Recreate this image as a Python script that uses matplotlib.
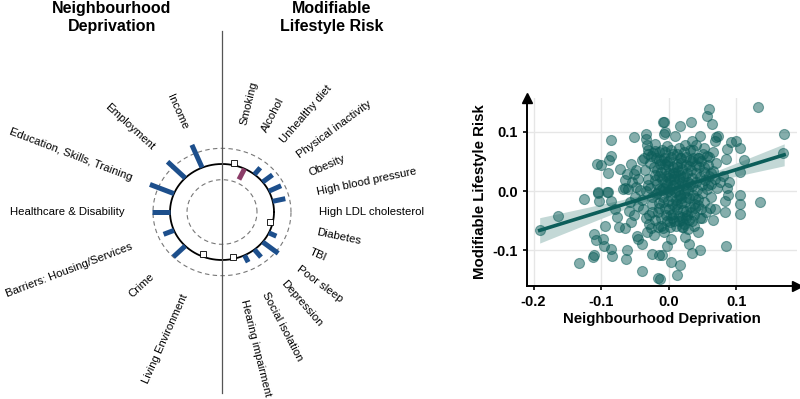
import numpy as np
import matplotlib
matplotlib.use("Agg")
import matplotlib.pyplot as plt

plt.rcParams['font.family'] = ['Liberation Sans', 'DejaVu Sans']

# ---- circular loading plot data (units: dashed ring = 1) ----
depr_labels = ["Income", "Employment", "Education, Skills, Training",
               "Healthcare & Disability", "Barriers: Housing/Services",
               "Crime", "Living Environment"]
depr_values = [1.57, 1.47, 1.53, 1.08, 0.66, 0.99, -0.15]
depr_signif = [True, True, True, True, True, True, False]

risk_labels = ["Smoking", "Alcohol", "Unhealthy diet", "Physical inactivity",
               "Obesity", "High blood pressure", "High LDL cholesterol",
               "Diabetes", "TBI", "Poor sleep", "Depression",
               "Social isolation", "Hearing impairment"]
risk_values = [0.15, -0.76, 0.55, 0.74, 0.80, 0.76, np.nan,
               -0.15, 0.49, 1.17, 0.62, 0.49, -0.15]
risk_signif = [False, True, True, True, True, True, True,
               False, True, True, True, True, False]

# ---- scatter data ----
dep_x = [-0.191, -0.164, -0.126, -0.133, -0.111, -0.111, -0.112, -0.104, -0.090, -0.103,
         -0.086, -0.094, -0.108, -0.098, -0.096, -0.086, -0.084, -0.076, -0.079, -0.067,
         -0.062, -0.063, -0.074, -0.064, -0.056, -0.052, -0.059, -0.047, -0.045, -0.040,
         -0.040, -0.025, -0.015, -0.016, -0.032, -0.022, -0.012, -0.007,
         -0.086, -0.106, -0.100, -0.089, -0.085, -0.090, -0.072, -0.056, -0.051, -0.034,
         -0.034, -0.032, -0.030, -0.039, -0.062, -0.052, -0.064, -0.060, -0.065, -0.049,
         -0.104, -0.091, -0.007, -0.007, -0.020, -0.015,
         0.059, 0.056, 0.064, 0.132, 0.171, 0.170, -0.008, -0.005, 0.017, 0.033,
         0.010, 0.047, 0.070, 0.068, 0.073, 0.092, 0.100, 0.106, 0.086, 0.111,
         0.105, 0.085, 0.090, 0.087, 0.076, 0.081, 0.066, 0.059, 0.051, 0.045,
         0.036, 0.041, 0.024, 0.031, 0.017, 0.007, -0.005, -0.003,
         0.135, 0.105, 0.106, 0.105, 0.088, 0.083, 0.083, 0.068, 0.061, 0.066,
         0.085, 0.050, 0.044, 0.024, 0.030, 0.035, 0.047, 0.017, 0.004, 0.012,
         0.003, -0.003, -0.010, -0.013, 0.021, 0.002,
         -0.035, -0.030, -0.028, -0.025, -0.022, -0.020, -0.018, -0.017, -0.015, -0.013,
         -0.012, -0.010, -0.009, -0.008, -0.006, -0.005, -0.004, -0.003, -0.002, -0.001,
         0.000, 0.001, 0.002, 0.003, 0.004, 0.005, 0.006, 0.007, 0.008, 0.009,
         0.010, 0.011, 0.012, 0.013, 0.014, 0.015, 0.016, 0.017, 0.018, 0.019,
         0.020, 0.021, 0.022, 0.023, 0.024, 0.025, 0.026, 0.027, 0.028, 0.029,
         0.030, 0.031, 0.033, 0.034, 0.035, 0.036, 0.037, 0.038, 0.040, 0.041,
         0.042, 0.044, 0.045, 0.047, 0.049, 0.050, 0.052, 0.054, 0.056, 0.058,
         0.060, 0.062, 0.065, 0.068, 0.070, 0.072,
         -0.045, -0.042, -0.040, -0.038, -0.036, -0.033, -0.031, -0.029, -0.026, -0.024,
         -0.021, -0.019, -0.016, -0.014, -0.011, -0.007, -0.004, 0.001, 0.004, 0.008,
         0.012, 0.015, 0.018, 0.022, 0.026, 0.030, 0.034, 0.039, 0.043, 0.048,
         0.053, 0.057, 0.063, -0.050, -0.048, -0.046, -0.055, -0.058, 0.000, 0.006,
         0.014, 0.020, -0.006, 0.010, 0.025, 0.032, -0.012, 0.018,
         -0.030, -0.027, -0.024, -0.021, -0.018, -0.015, -0.012, -0.009, -0.006, -0.003,
         0.000, 0.003, 0.006, 0.009, 0.012, 0.015, 0.018, 0.021, 0.024, 0.027,
         0.030, 0.033, 0.036, 0.039,
         -0.034, -0.029, -0.023, -0.019, -0.014, -0.010, -0.005, -0.001, 0.004, 0.008,
         0.013, 0.017, 0.022, 0.026, 0.031, 0.035, 0.040, 0.044, 0.048, 0.053,
         0.058, 0.063,
         -0.026, -0.016, -0.008, 0.002, 0.011, 0.019, 0.028, 0.037, 0.046, 0.055,
         -0.020, -0.002, 0.016, 0.034, 0.052, 0.025, 0.015, 0.005, -0.015, 0.020]
risk_y = [-0.066, -0.042, -0.014, -0.122, -0.072, -0.108, -0.111, -0.003, -0.001, -0.017,
          -0.016, -0.059, -0.083, -0.081, -0.092, -0.097, -0.110, -0.044, -0.030, 0.004,
          -0.100, -0.114, -0.061, -0.063, -0.052, -0.041, -0.033, -0.075, -0.080, -0.089,
          -0.134, -0.106, -0.108, -0.147, -0.069, -0.074, -0.058, -0.069,
          0.087, 0.045, 0.044, 0.052, 0.059, 0.031, 0.038, 0.045, 0.091, 0.097,
          0.088, 0.078, 0.070, 0.052, 0.029, 0.029, 0.018, 0.004, 0.006, 0.007,
          -0.002, -0.002, 0.116, 0.097, 0.068, 0.052,
          0.138, 0.126, 0.113, 0.142, 0.097, 0.065, 0.116, 0.099, 0.110, 0.116,
          0.093, 0.093, 0.091, 0.085, 0.093, 0.083, 0.084, 0.072, 0.071, 0.053,
          0.033, 0.054, 0.016, 0.005, 0.016, 0.025, 0.066, 0.057, 0.063, 0.055,
          0.069, 0.078, 0.077, 0.052, 0.055, 0.063, 0.066, 0.049,
          -0.019, -0.006, -0.021, -0.038, -0.006, -0.016, -0.036, -0.030, -0.029, -0.049,
          -0.093, -0.046, -0.069, -0.078, -0.089, -0.104, -0.100, -0.125, -0.119, -0.142,
          -0.081, -0.093, -0.108, -0.148, -0.061, -0.052,
          0.035, 0.020, 0.005, -0.010, 0.040, 0.028, 0.012, -0.004, -0.020, 0.045,
          0.033, 0.020, 0.006, -0.010, -0.028, 0.038, 0.025, 0.012, -0.002, -0.016,
          0.050, 0.030, 0.018, 0.004, -0.008, -0.022, -0.038, 0.040, 0.026, 0.012,
          -0.002, -0.015, -0.030, 0.046, 0.034, 0.020, 0.008, -0.006, -0.020, -0.044,
          0.038, 0.024, 0.010, -0.004, -0.018, -0.034, 0.044, 0.030, 0.016, 0.002,
          -0.012, -0.026, 0.036, 0.022, 0.008, -0.006, -0.022, -0.040, 0.030, 0.016,
          0.002, -0.014, 0.040, 0.024, 0.010, -0.004, 0.032, 0.018, 0.004, 0.044,
          0.026, 0.012, 0.034, 0.020, 0.048, 0.006,
          0.020, 0.002, -0.015, -0.030, 0.055, -0.045, 0.062, -0.055, 0.060, -0.035,
          -0.048, 0.056, -0.036, 0.066, -0.045, 0.055, -0.040, -0.030, 0.058, -0.050,
          0.062, -0.042, 0.056, -0.055, 0.058, -0.048, 0.050, -0.028, 0.056, -0.030,
          -0.018, 0.060, -0.010, -0.010, 0.035, -0.025, 0.015, -0.018, 0.000, 0.010,
          0.002, 0.015, 0.016, 0.030, 0.005, 0.012, 0.002, -0.012,
          0.010, 0.048, -0.022, 0.018, 0.035, -0.028, 0.052, -0.018, 0.046, -0.050,
          0.022, -0.040, 0.030, -0.025, 0.040, -0.008, 0.048, -0.032, 0.025, -0.040,
          0.042, -0.035, 0.055, -0.012,
          0.000, -0.040, 0.065, -0.005, 0.026, 0.070, 0.004, 0.042, 0.070, 0.020,
          -0.022, 0.028, 0.066, -0.010, 0.070, -0.050, 0.044, -0.024, 0.050, 0.040,
          0.010, 0.030,
          -0.062, -0.060, -0.062, -0.060, -0.058, -0.060, -0.064, -0.058, -0.046, -0.036,
          0.080, 0.076, 0.072, 0.084, 0.072, -0.046, -0.050, -0.045, 0.004, -0.048]

# linear fit (slope, intercept, CI half-width params)
fit_slope = 0.352
fit_intercept = 0.001
ci_center = 0.004
ci_spread = 0.108

blue = "#1d4f8c"
purple = "#8b3d68"
teal = "#0c5e5a"

fig = plt.figure(figsize=(8, 3.99), dpi=100)

# ---------------- left: circular plot ----------------
ax0 = fig.add_axes([0, 0, 450 / 800, 1])
ax0.set_xlim(-222 / 52, 228 / 52)
ax0.set_ylim(-187 / 48, 212 / 48)
ax0.axis('off')

ring_step = 17 / 52   # radial length of one unit
lab_r = 1.87
t = np.linspace(0, 2 * np.pi, 400)
ax0.plot(np.cos(t), np.sin(t), color='black', lw=1.3)
for k in (-1, 1):
    rr = 1 + k * ring_step
    ax0.plot(rr * np.cos(t), rr * np.sin(t), color='#777777', lw=0.8, ls=(0, (4, 3)))
ax0.plot([0, 0], [-3.77, 3.77], color='#555555', lw=0.9)


def draw_side(labels, values, signif, angles, side):
    for lab, v, s, a in zip(labels, values, signif, angles):
        th = np.deg2rad(a)
        c, si = np.cos(th), np.sin(th)
        if not np.isnan(v):
            r_end = 1 + v * ring_step
            if s:
                col = blue if v > 0 else purple
                ax0.plot([c, r_end * c], [si, r_end * si], color=col, lw=3.6,
                         solid_capstyle='butt')
            else:
                ax0.plot(r_end * c, r_end * si, marker='s', ms=3.8, mfc='white',
                         mec='black', mew=0.6)
        rot = np.rad2deg(np.arctan2(si * 48, c * 52))
        if side == 'left':
            rot -= 180
            ha = 'right'
        else:
            ha = 'left'
        ax0.text(lab_r * c, lab_r * si, lab, rotation=rot, rotation_mode='anchor',
                 ha=ha, va='center', fontsize=8.2)


left_ang = [112.5 + 22.5 * i for i in range(len(depr_labels))]
right_ang = [90 - 180 / 14 * (i + 1) for i in range(len(risk_labels))]
draw_side(depr_labels, depr_values, depr_signif, left_ang, 'left')
draw_side(risk_labels, risk_values, risk_signif, right_ang, 'right')

fig.text(112 / 800, 1 - 17.5 / 399, "Neighbourhood\nDeprivation", ha='center', va='center',
         fontsize=11.5, weight='bold', linespacing=1.3)
fig.text(332 / 800, 1 - 17.5 / 399, "Modifiable\nLifestyle Risk", ha='center', va='center',
         fontsize=11.5, weight='bold', linespacing=1.3)

# ---------------- right: scatter ----------------
ax1 = fig.add_axes([527 / 800, 1 - 286 / 399, 270 / 800, 188 / 399])
ax1.set_xlim(-0.2098, 0.19)
ax1.set_ylim(-0.160, 0.157)

xs = np.linspace(min(dep_x), max(dep_x), 100)
ys = fit_intercept + fit_slope * xs
hw = np.sqrt(ci_center ** 2 + (ci_spread * (xs - np.mean(dep_x))) ** 2)
ax1.fill_between(xs, ys - hw, ys + hw, color='#c3d8d6', lw=0, zorder=2)
ax1.scatter(dep_x, risk_y, s=52, color=teal, alpha=0.5, edgecolor=teal, lw=0.8, zorder=3)
ax1.plot(xs, ys, color=teal, lw=2.6, zorder=4)

ax1.set_xticks([-0.2, -0.1, 0.0, 0.1])
ax1.set_yticks([-0.1, 0.0, 0.1])
ax1.set_xticklabels(['-0.2', '-0.1', '0.0', '0.1'])
ax1.set_yticklabels(['-0.1', '0.0', '0.1'])
ax1.grid(True, color='#e6e6e6', lw=1)
ax1.set_axisbelow(True)
for sp in ('top', 'right'):
    ax1.spines[sp].set_visible(False)
for sp in ('left', 'bottom'):
    ax1.spines[sp].set_linewidth(1.4)
ax1.tick_params(length=3, width=1.2, labelsize=10.5)
for lab in ax1.get_xticklabels() + ax1.get_yticklabels():
    lab.set_fontweight('bold')
ax1.plot(0, 1, marker='^', color='black', ms=7, transform=ax1.transAxes, clip_on=False)
ax1.plot(1, 0, marker='>', color='black', ms=7, transform=ax1.transAxes, clip_on=False)
ax1.set_xlabel("Neighbourhood Deprivation", fontsize=10.8, weight='bold', labelpad=2)
ax1.set_ylabel("Modifiable Lifestyle Risk", fontsize=10.8, weight='bold', labelpad=4)

fig.savefig("out.png", dpi=100)
